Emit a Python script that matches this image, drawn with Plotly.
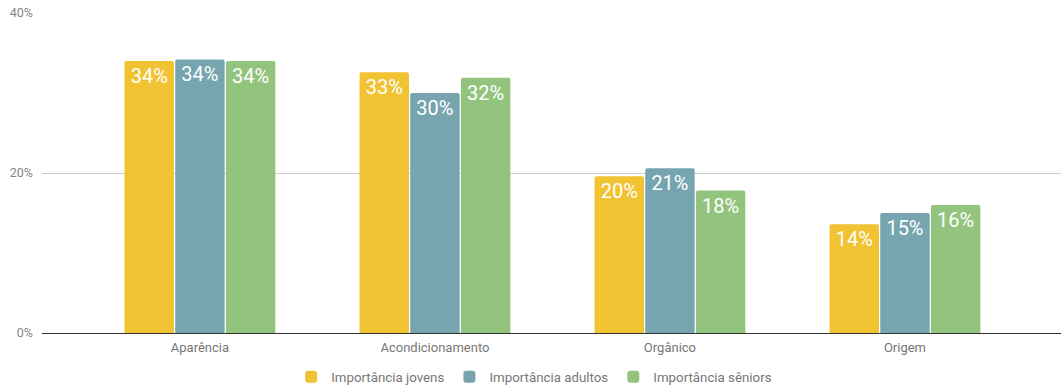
import plotly.graph_objects as go

categorias = ["Aparência", "Acondicionamento", "Orgânico", "Origem"]
jovens = [0.340, 0.326, 0.196, 0.136]
adultos = [0.342, 0.300, 0.206, 0.150]
seniores = [0.340, 0.319, 0.178, 0.160]
series = [
    ("Importância jovens", jovens, "#F1C232"),
    ("Importância adultos", adultos, "#76A5AF"),
    ("Importância sêniors", seniores, "#93C47D"),
]
y_ticks = [0, 0.2, 0.4]

fig = go.Figure()
for nome, valores, cor in series:
    fig.add_trace(go.Bar(
        x=categorias, y=valores, name=nome,
        marker=dict(color=cor, line=dict(width=0)),
        texttemplate="%{y:.0%}", textposition="inside",
        insidetextanchor="end",
        textfont=dict(color="white", size=20, family="Roboto"),
        cliponaxis=False,
    ))

fig.update_layout(
    width=1061, height=387,
    margin=dict(l=42, r=0, t=13, b=54, autoexpand=False),
    paper_bgcolor="white", plot_bgcolor="white",
    barmode="group", bargap=0.353, bargroupgap=0.025,
    barcornerradius=2,
    font=dict(family="Roboto", size=12, color="#777777"),
    showlegend=True,
    legend=dict(
        orientation="h", x=0.483, xanchor="center",
        y=-0.138, yanchor="middle",
        font=dict(size=13.3, color="#777777"),
        itemclick=False,
    ),
    xaxis=dict(
        range=[-0.672, 3.664], showgrid=False, showline=False,
        ticks="", ticklabelstandoff=5,
        tickfont=dict(size=13, color="#777777"),
        fixedrange=True,
    ),
    yaxis=dict(
        range=[0, 0.4], tickvals=y_ticks, tickformat=".0%",
        showgrid=True, gridcolor="#CCCCCC", gridwidth=1,
        zeroline=True, zerolinecolor="#333333", zerolinewidth=1,
        showline=False, ticks="", ticklabelstandoff=8,
        tickfont=dict(size=12.5, color="#858585"),
        fixedrange=True,
    ),
)

fig.write_html("out.html")
